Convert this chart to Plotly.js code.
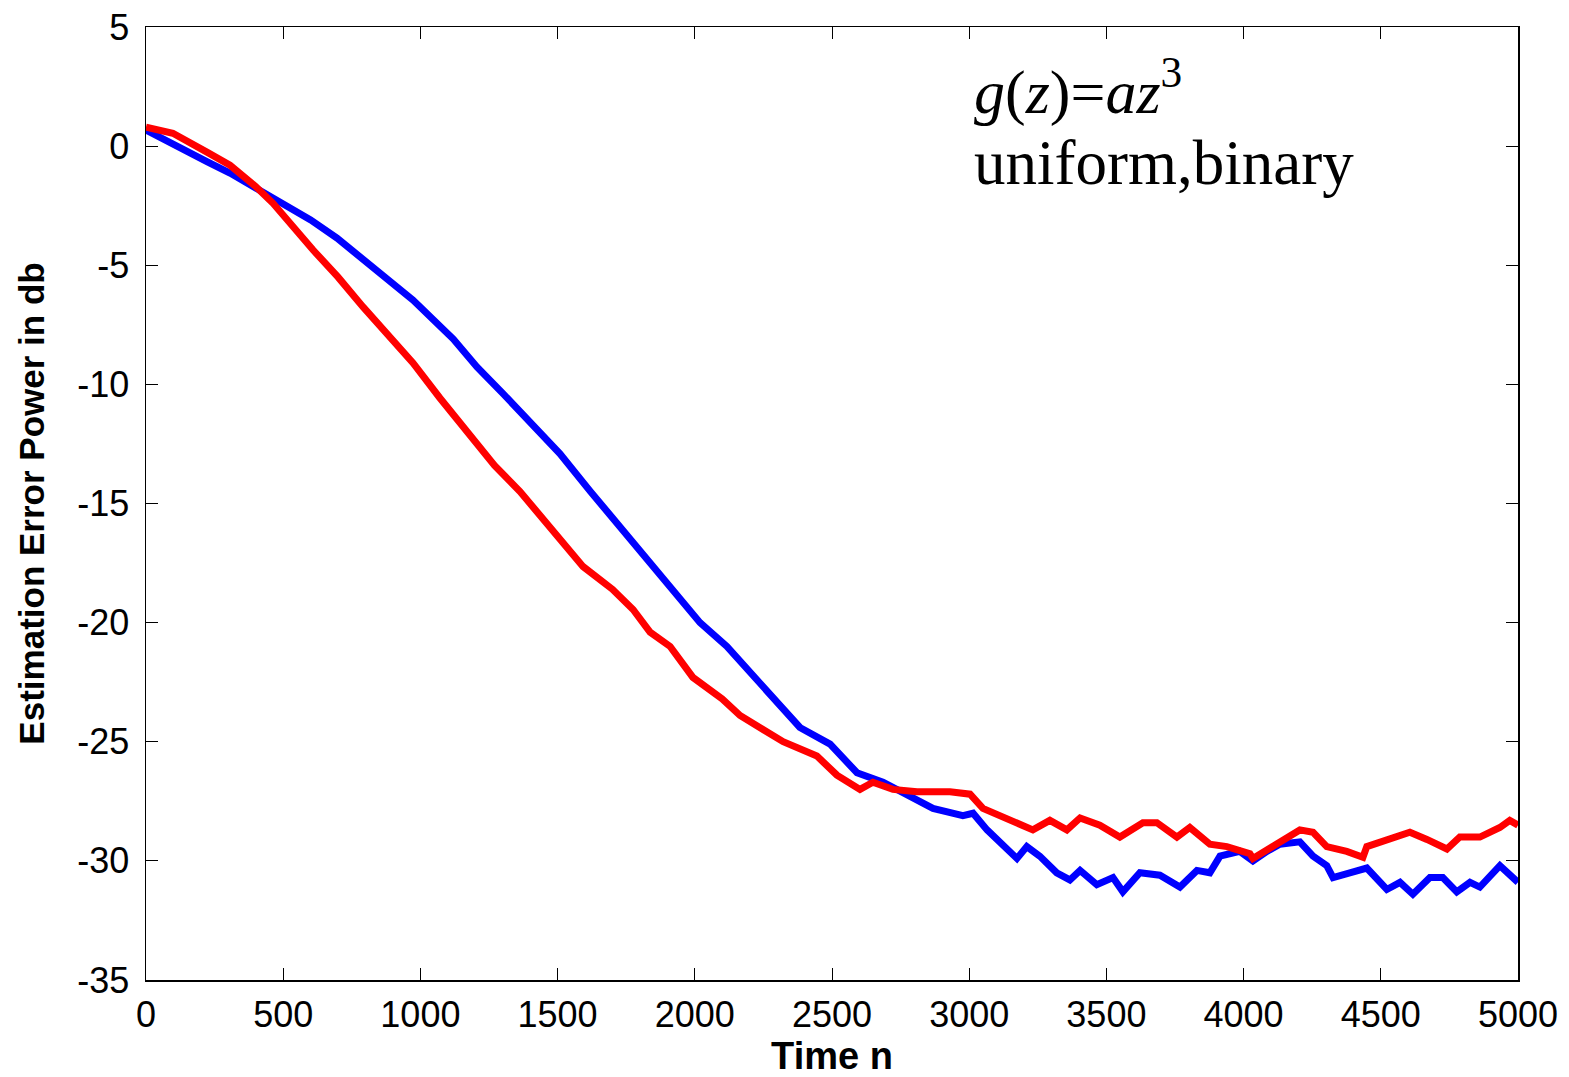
<!DOCTYPE html>
<html>
<head>
<meta charset="utf-8">
<script src="https://cdn.plot.ly/plotly-3.0.1.min.js"></script>
<style>html,body{margin:0;padding:0;background:#fff;}#chart{width:1569px;height:1077px;}</style>
</head>
<body>
<div id="chart"></div>
<script>
// Blue curve (time n, error power dB)
const blueN = [0, 98, 222, 306, 404, 513, 600, 696, 791, 880, 973, 1120, 1206, 1302, 1400, 1508, 1620, 1727, 1837, 1898, 2019, 2117, 2201, 2300, 2383, 2493, 2591, 2686, 2810, 2868, 2977, 3014, 3065, 3112, 3174, 3210, 3257, 3319, 3367, 3404, 3465, 3524, 3560, 3622, 3695, 3768, 3830, 3877, 3914, 3986, 4034, 4085, 4132, 4205, 4253, 4303, 4326, 4387, 4449, 4522, 4570, 4617, 4679, 4726, 4777, 4825, 4861, 4934, 4970, 5000];
const blueV = [0.67, 0.12, -0.65, -1.13, -1.76, -2.47, -3.1, -3.86, -4.78, -5.6, -6.46, -8.1, -9.27, -10.4, -11.6, -12.9, -14.5, -16.0, -17.5, -18.3, -20.0, -21.0, -22.1, -23.3, -24.4, -25.1, -26.3, -26.7, -27.5, -27.8, -28.1, -28.0, -28.7, -29.2, -29.9, -29.4, -29.8, -30.5, -30.8, -30.4, -31.0, -30.7, -31.3, -30.5, -30.6, -31.1, -30.4, -30.5, -29.8, -29.6, -30.0, -29.6, -29.3, -29.2, -29.8, -30.2, -30.7, -30.5, -30.3, -31.2, -30.9, -31.4, -30.7, -30.7, -31.3, -30.9, -31.1, -30.2, -30.6, -30.9];

// Red curve
const redN = [0, 98, 222, 306, 400, 463, 609, 700, 791, 880, 973, 1071, 1181, 1270, 1363, 1472, 1593, 1700, 1775, 1837, 1910, 1993, 2100, 2165, 2322, 2445, 2518, 2602, 2649, 2722, 2810, 2930, 3003, 3050, 3112, 3174, 3232, 3294, 3356, 3404, 3476, 3549, 3633, 3684, 3757, 3804, 3877, 3939, 4023, 4034, 4121, 4205, 4253, 4303, 4376, 4435, 4449, 4544, 4606, 4668, 4741, 4788, 4861, 4934, 4970, 5000];
const redV = [0.8, 0.54, -0.25, -0.8, -1.7, -2.4, -4.36, -5.5, -6.75, -7.9, -9.1, -10.57, -12.2, -13.4, -14.5, -16.0, -17.65, -18.6, -19.45, -20.4, -21.0, -22.3, -23.2, -23.9, -25.0, -25.6, -26.4, -27.0, -26.7, -27.0, -27.1, -27.1, -27.2, -27.8, -28.1, -28.4, -28.7, -28.3, -28.7, -28.2, -28.5, -29.0, -28.4, -28.4, -29.0, -28.6, -29.3, -29.4, -29.7, -29.9, -29.3, -28.7, -28.8, -29.4, -29.6, -29.85, -29.4, -29.0, -28.8, -29.1, -29.5, -29.0, -29.0, -28.6, -28.3, -28.5];

const xTicks = [0, 500, 1000, 1500, 2000, 2500, 3000, 3500, 4000, 4500, 5000];
const yTicks = [5, 0, -5, -10, -15, -20, -25, -30, -35];

const traces = [
  {x: blueN, y: blueV, type: 'scatter', mode: 'lines', line: {color: '#0000ff', width: 7}, showlegend: false},
  {x: redN, y: redV, type: 'scatter', mode: 'lines', line: {color: '#ff0000', width: 7}, showlegend: false}
];

const axisCommon = {
  showline: true, linecolor: '#000', linewidth: 1.5, mirror: 'ticks',
  ticks: 'inside', ticklen: 12, tickwidth: 1, tickcolor: '#000',
  showgrid: false, zeroline: false,
  tickfont: {family: 'Liberation Sans, Arial, sans-serif', size: 36, color: '#000'}
};

const layout = {
  width: 1569, height: 1077,
  margin: {l: 146, r: 51, t: 27, b: 97},
  paper_bgcolor: '#fff', plot_bgcolor: '#fff',
  xaxis: Object.assign({}, axisCommon, {
    range: [0, 5000], tickvals: xTicks, ticktext: xTicks.map(String),
    ticklabelstandoff: 2,
    title: {text: '<b>Time n</b>', font: {family: 'Liberation Sans, Arial, sans-serif', size: 38, color: '#000'}, standoff: 6}
  }),
  yaxis: Object.assign({}, axisCommon, {
    range: [-35, 5], tickvals: yTicks, ticktext: yTicks.map(String),
    ticklabelstandoff: 8,
    title: {text: '<b>Estimation Error Power in db</b>', font: {family: 'Liberation Sans, Arial, sans-serif', size: 35, color: '#000'}, standoff: 22}
  }),
  annotations: [
    {xref: 'paper', yref: 'paper', x: (972-146)/1372, y: 1 - (88-27)/953, xanchor: 'left', yanchor: 'middle', showarrow: false,
     text: '<i>g</i>(<i>z</i>)=<i>az</i><sup>3</sup>', font: {family: 'Liberation Serif, Times New Roman, serif', size: 62, color: '#000'}},
    {xref: 'paper', yref: 'paper', x: (972-146)/1372, y: 1 - (163-27)/953, xanchor: 'left', yanchor: 'middle', showarrow: false,
     text: 'uniform,binary', font: {family: 'Liberation Serif, Times New Roman, serif', size: 63, color: '#000'}}
  ]
};

Plotly.newPlot('chart', traces, layout, {displayModeBar: false, staticPlot: true});
</script>
</body>
</html>
